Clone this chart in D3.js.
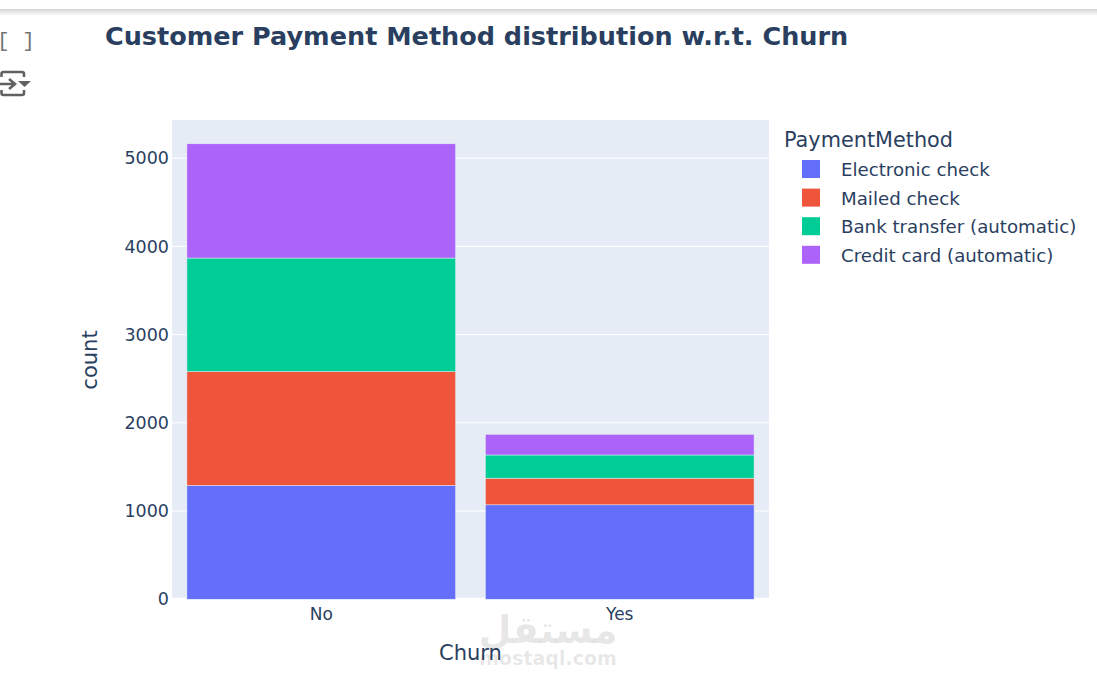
<!DOCTYPE html>
<html>
<head>
<meta charset="utf-8">
<script src="https://cdn.jsdelivr.net/npm/d3@7"></script>
<style>
	html, body { margin: 0; padding: 0; background: #fff; overflow: hidden; }
	text { font-family: "DejaVu Sans", sans-serif; fill: #2a3f5f; }
</style>
</head>
<body>
<div id="container"></div>
<script>
const churn = ['No', 'Yes'];
const methods = ['Electronic check', 'Mailed check', 'Bank transfer (automatic)', 'Credit card (automatic)'];
const electronicCheck = [1290, 1070];
const mailedCheck = [1291, 302];
const bankTransfer = [1287, 263];
const creditCard = [1295, 234];
const colors = ['#636efa', '#EF553B', '#00cc96', '#ab63fa'];
const yTicks = [0, 1000, 2000, 3000, 4000, 5000];

const rows = churn.map((c, i) => ({
	churn: c,
	[methods[0]]: electronicCheck[i],
	[methods[1]]: mailedCheck[i],
	[methods[2]]: bankTransfer[i],
	[methods[3]]: creditCard[i]
}));

const totalWidth = 1097;
const totalHeight = 684;
const margin = { left: 172, right: 328, top: 120, bottom: 84.8 };
const width = totalWidth - margin.left - margin.right;
const height = totalHeight - margin.top - margin.bottom;

const svg = d3.select('#container').append('svg')
	.attr('width', totalWidth)
	.attr('height', totalHeight);

// notebook chrome at the top of the screenshot
const shadow = svg.append('defs').append('linearGradient')
	.attr('id', 'shadow')
	.attr('x1', 0).attr('x2', 0).attr('y1', 0).attr('y2', 1);
shadow.append('stop').attr('offset', '0%').attr('stop-color', '#d4d4d4');
shadow.append('stop').attr('offset', '100%').attr('stop-color', '#ffffff');
svg.append('rect')
	.attr('x', 0).attr('y', 9)
	.attr('width', totalWidth).attr('height', 7)
	.attr('fill', 'url(#shadow)');

svg.append('text')
	.text('[ ]')
	.attr('x', -3).attr('y', 47)
	.attr('font-size', 21)
	.style('font-family', '"Liberation Mono", monospace')
	.style('fill', '#757575');

const icon = svg.append('g')
	.attr('fill', 'none')
	.attr('stroke', '#616161')
	.attr('stroke-width', 2.6);
icon.append('path').attr('d', 'M1.5 77 V74 Q1.5 72 3.5 72 H22 Q24 72 24 74 V77');
icon.append('path').attr('d', 'M1.5 90 V93 Q1.5 95 3.5 95 H22 Q24 95 24 93 V90');
icon.append('path').attr('d', 'M0 84 H14 M9 79 L15 84 L9 89');
svg.append('path')
	.attr('d', 'M18 81 H31 L24.5 87 Z')
	.attr('fill', '#616161');

svg.append('text')
	.text('Customer Payment Method distribution w.r.t. Churn')
	.attr('x', 105).attr('y', 45)
	.attr('font-size', 25.5)
	.attr('font-weight', 700);

const g = svg.append('g').attr('transform', `translate(${margin.left},${margin.top})`);

const x = d3.scaleBand()
	.domain(churn)
	.range([0, width])
	.paddingInner(0.1)
	.paddingOuter(0.05);

const y = d3.scaleLinear()
	.domain([0, 5433])
	.range([height, 0]);

g.append('rect')
	.attr('width', width)
	.attr('height', height)
	.attr('fill', '#E5ECF6');

g.selectAll('.grid')
	.data(yTicks).enter()
	.append('line')
	.attr('class', 'grid')
	.attr('x1', 0)
	.attr('x2', width)
	.attr('y1', d => y(d))
	.attr('y2', d => y(d))
	.attr('stroke', '#fff')
	.attr('stroke-width', d => d === 0 ? 3 : 1);

const stacked = d3.stack().keys(methods)(rows);

const layers = g.selectAll('.layer')
	.data(stacked).enter()
	.append('g')
	.attr('class', 'layer')
	.attr('fill', (d, i) => colors[i]);

layers.selectAll('rect')
	.data(d => d).enter()
	.append('rect')
	.attr('x', d => x(d.data.churn))
	.attr('y', d => y(d[1]))
	.attr('width', x.bandwidth())
	.attr('height', d => y(d[0]) - y(d[1]))
	.attr('stroke', '#E5ECF6')
	.attr('stroke-width', 0.5);

const yAxis = d3.axisLeft(y).tickValues(yTicks).tickFormat(d3.format('d')).tickSize(0).tickPadding(3);
const xAxis = d3.axisBottom(x).tickSize(0).tickPadding(9);

const yAxisG = g.append('g').call(yAxis);
const xAxisG = g.append('g').attr('transform', `translate(0,${height})`).call(xAxis);
yAxisG.select('path.domain').remove();
xAxisG.select('path.domain').remove();
yAxisG.selectAll('text').attr('font-size', 17.5).style('fill', '#2a3f5f');
xAxisG.selectAll('text').attr('font-size', 17).style('fill', '#2a3f5f');

svg.append('text')
	.text('Churn')
	.attr('x', 470.5)
	.attr('y', 660)
	.attr('text-anchor', 'middle')
	.attr('font-size', 21);

svg.append('text')
	.text('count')
	.attr('transform', 'translate(97,360) rotate(-90)')
	.attr('text-anchor', 'middle')
	.attr('font-size', 21);

// legend
const legend = svg.append('g');
legend.append('text')
	.text('PaymentMethod')
	.attr('x', 784).attr('y', 147)
	.attr('font-size', 20.8);

const legendRows = legend.selectAll('.legend-row')
	.data(methods).enter()
	.append('g')
	.attr('class', 'legend-row')
	.attr('transform', (d, i) => `translate(0,${169 + i * 28.6})`);

legendRows.append('rect')
	.attr('x', 802).attr('y', -9)
	.attr('width', 18).attr('height', 18)
	.attr('fill', (d, i) => colors[i]);

legendRows.append('text')
	.text(d => d)
	.attr('x', 841).attr('y', 7)
	.attr('font-size', 18.2);

// mostaql watermark
svg.append('text')
	.text('مستقل')
	.attr('x', 548).attr('y', 643)
	.attr('text-anchor', 'middle')
	.attr('font-size', 38)
	.attr('font-weight', 700)
	.style('fill', '#000')
	.style('fill-opacity', 0.1);

svg.append('text')
	.text('mostaql.com')
	.attr('x', 548).attr('y', 665)
	.attr('text-anchor', 'middle')
	.attr('font-size', 19)
	.attr('font-weight', 700)
	.style('fill', '#000')
	.style('fill-opacity', 0.1);
</script>
</body>
</html>
